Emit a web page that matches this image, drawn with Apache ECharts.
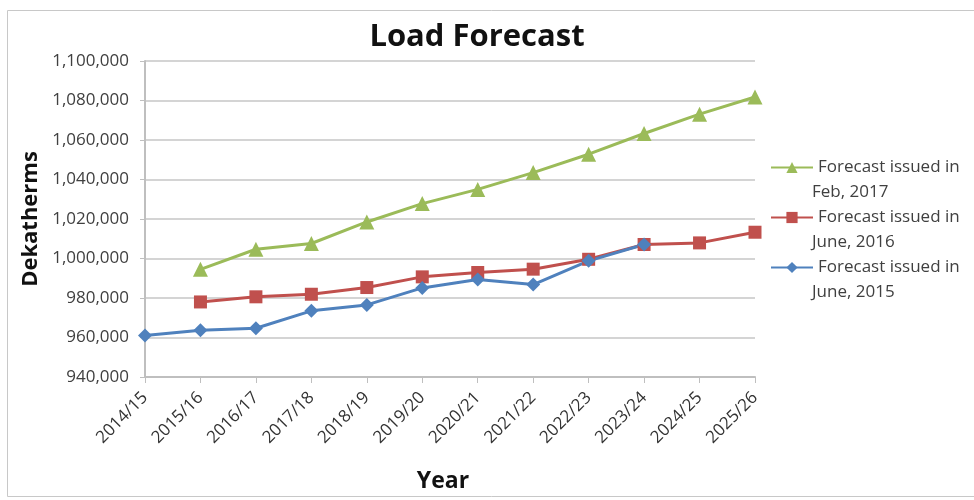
<!DOCTYPE html>
<html><head><meta charset="utf-8">
<script src="https://cdn.jsdelivr.net/npm/echarts@6/dist/echarts.min.js"></script>
<style>html,body{margin:0;padding:0;background:#fff}#c{width:974px;height:500px}</style>
</head><body><div id="c"></div>
<script>
const categories = ['2014/15','2015/16','2016/17','2017/18','2018/19','2019/20','2020/21','2021/22','2022/23','2023/24','2024/25','2025/26'];
const feb2017 = [null, 994500, 1004700, 1007600, 1018500, 1027800, 1035000, 1043500, 1052800, 1063300, 1073100, 1081800];
const june2016 = [null, 978000, 980600, 981900, 985300, 990700, 992900, 994600, 999600, 1007100, 1007900, 1013300];
const june2015 = [961000, 963700, 964700, 973500, 976500, 985100, 989400, 986800, 998800, 1007100, null, null];
const yTicks = {min: 940000, max: 1100000, interval: 20000};
const names = ['Forecast issued in\nFeb, 2017','Forecast issued in\nJune, 2016','Forecast issued in\nJune, 2015'];

const font = '"Open Sans", sans-serif';
const legendLeft = 765, legendTop = 150, legendStep = 50, iconW = 42, legendFont = 17;
const secondLines = names.map((n, i) => ({
  type: 'text', silent: true,
  x: legendLeft + iconW + 5, y: legendTop + 42.5 + i * legendStep,
  style: {text: n.split('\n')[1], fontFamily: font, fontSize: legendFont, fill: '#404040', verticalAlign: 'middle'}
}));

const chart = echarts.init(document.getElementById('c'));
chart.setOption({
  animation: false,
  textStyle: {fontFamily: font},
  graphic: [{type:'rect', shape:{x:7.5,y:10.5,width:975,height:486}, style:{fill:'none', stroke:'#c8c8c8', lineWidth:1}, silent:true}].concat(secondLines),
  title: {text: 'Load Forecast', left: 472, top: 17, textAlign: 'center',
    textStyle: {fontFamily: font, fontWeight: 'bold', fontSize: 31, color: '#111'}},
  grid: {left: 145, right: 219, top: 61, bottom: 123, containLabel: false},
  legend: {orient: 'vertical', left: legendLeft, top: legendTop, itemGap: legendStep - 25, itemWidth: iconW, itemHeight: 14,
    data: names, formatter: n => n.split('\n')[0],
    textStyle: {fontFamily: font, fontSize: legendFont, color: '#404040', lineHeight: 25}},
  xAxis: {type: 'category', data: categories, boundaryGap: false,
    name: 'Year', nameLocation: 'middle', nameGap: 93,
    nameTextStyle: {fontFamily: font, fontWeight: 'bold', fontSize: 23, color: '#111', padding: [0, 14, 0, 0]},
    axisLine: {lineStyle: {color: '#bfbfbf', width: 2}},
    axisTick: {show: true, alignWithLabel: true, length: 6, lineStyle: {color: '#bfbfbf'}},
    axisLabel: {rotate: 45, fontSize: 17, color: '#333', margin: 18, fontFamily: font},
    splitLine: {show: false}},
  yAxis: {type: 'value', min: yTicks.min, max: yTicks.max, interval: yTicks.interval,
    name: 'Dekatherms', nameLocation: 'middle', nameGap: 100, nameRotate: 90,
    nameTextStyle: {fontFamily: font, fontWeight: 'bold', fontSize: 22, color: '#111'},
    axisLine: {show: true, lineStyle: {color: '#bfbfbf', width: 2}},
    axisTick: {show: true, length: 5, lineStyle: {color: '#bfbfbf'}},
    axisLabel: {fontSize: 17, color: '#404040', margin: 16, fontFamily: font,
      formatter: v => v.toLocaleString('en-US')},
    splitLine: {lineStyle: {color: '#d4d4d4', width: 2}}},
  series: [
    {name: names[0], type: 'line', data: feb2017, symbol: 'triangle', symbolSize: 15,
      lineStyle: {color: '#9BBB59', width: 3}, itemStyle: {color: '#9BBB59'}},
    {name: names[1], type: 'line', data: june2016, symbol: 'rect', symbolSize: 13,
      lineStyle: {color: '#C0504D', width: 3}, itemStyle: {color: '#C0504D'}},
    {name: names[2], type: 'line', data: june2015, symbol: 'diamond', symbolSize: 14,
      lineStyle: {color: '#4F81BD', width: 3}, itemStyle: {color: '#4F81BD'}}
  ]
});
</script></body></html>
